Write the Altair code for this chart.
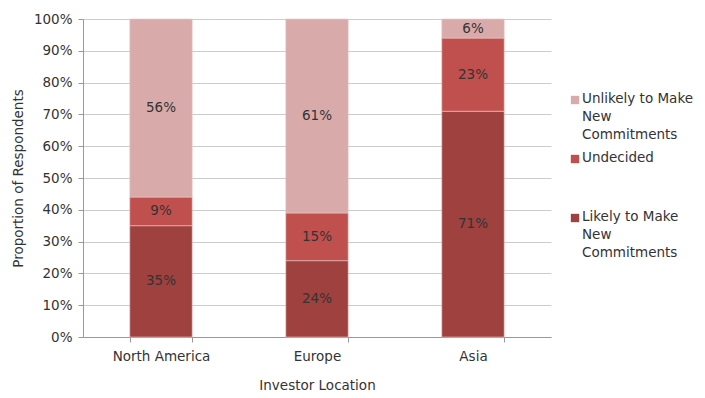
import altair as alt
import pandas as pd

locations = ["North America", "Europe", "Asia"]
series = ["Likely to Make New Commitments", "Undecided", "Unlikely to Make New Commitments"]
likely = [35, 24, 71]
undecided = [9, 15, 23]
unlikely = [56, 61, 6]
colors = ["#9E413F", "#C0504D", "#D9AAAA"]
y_ticks = [0, 0.1, 0.2, 0.3, 0.4, 0.5, 0.6, 0.7, 0.8, 0.9, 1.0]
legend_labels = ["Unlikely to Make|New|Commitments", "Undecided", "Likely to Make|New|Commitments"]
legend_colors = ["#D9AAAA", "#C0504D", "#9E413F"]

rows = []
for i, loc in enumerate(locations):
    for s, (name, vals) in enumerate(zip(series, [likely, undecided, unlikely])):
        rows.append({"loc": loc, "series": name, "order": s, "value": vals[i] / 100,
                     "label": f"{vals[i]}%"})
df = pd.DataFrame(rows)
leg = pd.DataFrame({"idx": list(range(3)), "label": legend_labels, "color": legend_colors})

FONT = "DejaVu Sans"
FS = 13.5
TXT = "#333333"

yaxis = alt.Axis(format=".0%", values=y_ticks, tickCount=11, labelOverlap=False,
                 labelFontSize=FS, titleFontSize=FS, labelColor=TXT,
                 titleColor=TXT, gridColor="#cccccc", domainColor="#999",
                 tickColor="#999", tickSize=5, labelPadding=6, titlePadding=8,
                 labelFont=FONT, titleFont=FONT, titleFontWeight="normal")

base = alt.Chart(df).encode(
    x=alt.X("loc:N", sort=locations, title="Investor Location",
            scale=alt.Scale(paddingInner=0.6, paddingOuter=0.3),
            axis=alt.Axis(labelAngle=0, labelFontSize=FS, titleFontSize=FS,
                          labelColor=TXT, titleColor=TXT, titlePadding=16,
                          labelPadding=7, domainColor="#999", tickColor="#999",
                          tickSize=5, tickBand="extent", labelFont=FONT, titleFont=FONT,
                          titleFontWeight="normal")),
)

bars = base.mark_bar(stroke="#e8c8c8", strokeWidth=0.6).encode(
    y=alt.Y("sum(value):Q", stack="zero", title="Proportion of Respondents",
            scale=alt.Scale(domain=[0, 1]), axis=yaxis),
    color=alt.Color("series:N", sort=series,
                    scale=alt.Scale(domain=series, range=colors), legend=None),
    order=alt.Order("order:Q", sort="ascending"),
)

text = base.mark_text(fontSize=FS, font=FONT, color=TXT).encode(
    y=alt.Y("mid:Q", title="Proportion of Respondents",
            scale=alt.Scale(domain=[0, 1]), axis=yaxis),
    text="label:N",
).transform_window(
    cum="sum(value)", groupby=["loc"], sort=[alt.SortField("order")]
).transform_calculate(
    mid="datum.cum - datum.value / 2"
)

leg_base = alt.Chart(leg).transform_calculate(
    ly="81 + datum.idx * 59"
)
leg_sq = leg_base.mark_square(size=70, opacity=1).encode(
    x=alt.value(492),
    y=alt.Y("ly:Q", scale=None, axis=None),
    color=alt.Color("color:N", scale=None, legend=None),
)
leg_txt = leg_base.mark_text(align="left", baseline="top", fontSize=FS, font=FONT,
                             color=TXT, lineBreak="|", lineHeight=18, dy=-8).encode(
    x=alt.value(499),
    y=alt.Y("ly:Q", scale=None, axis=None),
    text="label:N",
)

main = alt.layer(bars, text)
legend = alt.layer(leg_sq, leg_txt)

chart = alt.layer(main, legend).resolve_scale(
    y="independent", color="independent"
).resolve_axis(y="independent").properties(
    width=468, height=318,
    autosize=alt.AutoSizeParams(type="none"),
    padding={"left": 75, "top": 11, "right": 146, "bottom": 61},
    background="white",
).configure_view(stroke="transparent", strokeWidth=0)

chart.save("out.html", embed_options={"renderer": "svg", "actions": False})
